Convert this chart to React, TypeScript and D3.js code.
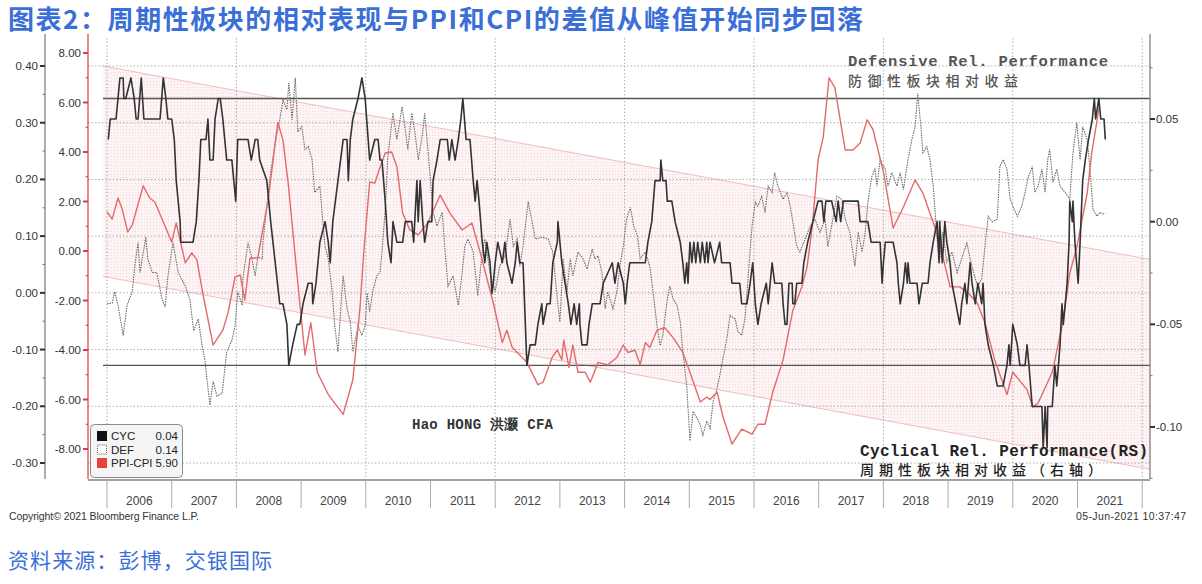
import React from "react";
import * as d3 from "d3";

// decimal year, value (right axis)
const cycData: [number, number][] = [
  [2006.02, 0.04], [2006.05, 0.05], [2006.14, 0.05], [2006.17, 0.06], [2006.2, 0.07], [2006.25, 0.07],
  [2006.26, 0.06], [2006.29, 0.06], [2006.37, 0.07], [2006.42, 0.06], [2006.45, 0.05], [2006.48, 0.05],
  [2006.53, 0.07], [2006.57, 0.05], [2006.82, 0.05], [2006.87, 0.07], [2006.91, 0.06], [2006.94, 0.05],
  [2007.0, 0.05], [2007.04, 0.04], [2007.07, 0.02], [2007.1, 0.01], [2007.13, 0.0], [2007.14, -0.01],
  [2007.33, -0.01], [2007.38, 0.0], [2007.42, 0.02], [2007.45, 0.04], [2007.53, 0.04], [2007.56, 0.05],
  [2007.59, 0.03], [2007.64, 0.03], [2007.67, 0.05], [2007.72, 0.06], [2007.75, 0.06], [2007.79, 0.05],
  [2007.85, 0.03], [2007.93, 0.03], [2007.99, 0.01], [2008.02, 0.04], [2008.18, 0.04], [2008.23, 0.03],
  [2008.29, 0.04], [2008.33, 0.04], [2008.36, 0.03], [2008.47, 0.02], [2008.53, 0.0], [2008.6, -0.02],
  [2008.67, -0.04], [2008.72, -0.04], [2008.78, -0.05], [2008.81, -0.07], [2008.87, -0.06], [2008.94, -0.05],
  [2008.98, -0.05], [2009.03, -0.04], [2009.11, -0.03], [2009.17, -0.03], [2009.18, -0.04], [2009.23, -0.03],
  [2009.29, -0.01], [2009.37, 0.0], [2009.42, -0.01], [2009.45, -0.02], [2009.49, 0.0], [2009.57, 0.02],
  [2009.65, 0.04], [2009.71, 0.04], [2009.73, 0.02], [2009.76, 0.04], [2009.8, 0.05], [2009.88, 0.06],
  [2009.94, 0.07], [2009.99, 0.06], [2010.06, 0.03], [2010.14, 0.04], [2010.19, 0.04], [2010.22, 0.03],
  [2010.25, 0.03], [2010.3, 0.01], [2010.34, -0.01], [2010.39, -0.02], [2010.42, 0.0], [2010.48, -0.01],
  [2010.57, -0.01], [2010.61, 0.0], [2010.71, 0.0], [2010.74, -0.01], [2010.79, 0.02], [2010.81, 0.0],
  [2010.84, 0.02], [2010.88, 0.0], [2010.91, -0.01], [2010.96, 0.0], [2011.02, 0.0], [2011.04, 0.02],
  [2011.1, 0.03], [2011.15, 0.04], [2011.26, 0.04], [2011.29, 0.03], [2011.33, 0.04], [2011.38, 0.03],
  [2011.43, 0.04], [2011.47, 0.05], [2011.5, 0.06], [2011.55, 0.04], [2011.61, 0.04], [2011.66, 0.02],
  [2011.69, 0.01], [2011.72, 0.02], [2011.75, 0.01], [2011.8, -0.01], [2011.84, -0.02], [2011.87, -0.01],
  [2011.92, -0.02], [2011.95, -0.035], [2011.97, -0.03], [2012.0, -0.02], [2012.04, -0.01], [2012.11, -0.02],
  [2012.15, -0.01], [2012.18, -0.02], [2012.26, -0.03], [2012.31, -0.02], [2012.34, -0.01], [2012.38, -0.02],
  [2012.43, -0.02], [2012.49, -0.07], [2012.54, -0.06], [2012.62, -0.06], [2012.66, -0.05], [2012.72, -0.04],
  [2012.74, -0.05], [2012.8, -0.04], [2012.85, -0.04], [2012.89, -0.02], [2012.96, -0.01], [2012.97, 0.0],
  [2013.0, -0.01], [2013.03, -0.02], [2013.08, -0.03], [2013.13, -0.04], [2013.17, -0.05], [2013.22, -0.04],
  [2013.26, -0.05], [2013.3, -0.04], [2013.31, -0.05], [2013.34, -0.06], [2013.42, -0.06], [2013.45, -0.05],
  [2013.5, -0.04], [2013.62, -0.04], [2013.67, -0.03], [2013.81, -0.02], [2013.85, -0.03], [2013.9, -0.02],
  [2013.98, -0.03], [2014.01, -0.04], [2014.04, -0.03], [2014.08, -0.02], [2014.32, -0.02], [2014.36, -0.01],
  [2014.42, 0.0], [2014.47, 0.02], [2014.55, 0.02], [2014.56, 0.03], [2014.59, 0.02], [2014.64, 0.02],
  [2014.66, 0.01], [2014.73, 0.01], [2014.78, 0.0], [2014.86, -0.01], [2014.9, -0.02], [2014.93, -0.03],
  [2014.96, -0.02], [2014.98, -0.03], [2015.01, -0.01], [2015.04, -0.02], [2015.07, -0.01], [2015.1, -0.02],
  [2015.13, -0.01], [2015.17, -0.02], [2015.2, -0.01], [2015.24, -0.02], [2015.27, -0.01], [2015.29, -0.02],
  [2015.32, -0.01], [2015.39, -0.02], [2015.47, -0.01], [2015.5, -0.02], [2015.63, -0.02], [2015.66, -0.03],
  [2015.78, -0.03], [2015.81, -0.04], [2015.89, -0.04], [2015.94, -0.03], [2015.98, -0.02], [2016.02, -0.04],
  [2016.06, -0.05], [2016.11, -0.04], [2016.19, -0.03], [2016.22, -0.04], [2016.28, -0.02], [2016.32, -0.03],
  [2016.43, -0.03], [2016.45, -0.04], [2016.48, -0.05], [2016.51, -0.05], [2016.54, -0.03], [2016.59, -0.03],
  [2016.6, -0.04], [2016.63, -0.04], [2016.66, -0.03], [2016.74, -0.03], [2016.77, -0.02], [2016.83, -0.01],
  [2016.91, 0.0], [2016.99, 0.01], [2017.05, 0.01], [2017.08, 0.0], [2017.11, 0.01], [2017.2, 0.01],
  [2017.27, 0.0], [2017.3, 0.01], [2017.34, 0.0], [2017.38, 0.01], [2017.61, 0.01], [2017.64, 0.0],
  [2017.76, 0.0], [2017.81, -0.01], [2017.95, -0.01], [2017.98, -0.03], [2018.0, -0.02], [2018.03, -0.01],
  [2018.15, -0.01], [2018.21, -0.02], [2018.23, -0.03], [2018.26, -0.04], [2018.31, -0.03], [2018.34, -0.02],
  [2018.37, -0.03], [2018.38, -0.02], [2018.41, -0.03], [2018.52, -0.03], [2018.55, -0.04], [2018.6, -0.03],
  [2018.69, -0.03], [2018.72, -0.02], [2018.77, -0.01], [2018.83, 0.0], [2018.86, -0.02], [2018.87, 0.0],
  [2018.91, -0.02], [2018.95, 0.0], [2018.98, -0.01], [2019.03, -0.02], [2019.06, -0.03], [2019.12, -0.04],
  [2019.18, -0.05], [2019.21, -0.04], [2019.26, -0.03], [2019.29, -0.04], [2019.34, -0.02], [2019.37, -0.03],
  [2019.42, -0.04], [2019.46, -0.03], [2019.52, -0.04], [2019.54, -0.03], [2019.57, -0.05], [2019.62, -0.06],
  [2019.7, -0.07], [2019.76, -0.08], [2019.85, -0.08], [2019.91, -0.07], [2019.94, -0.06], [2019.96, -0.07],
  [2020.0, -0.05], [2020.07, -0.06], [2020.11, -0.07], [2020.19, -0.07], [2020.22, -0.06], [2020.25, -0.07],
  [2020.3, -0.09], [2020.45, -0.09], [2020.47, -0.11], [2020.5, -0.09], [2020.53, -0.11], [2020.54, -0.09],
  [2020.61, -0.09], [2020.65, -0.07], [2020.68, -0.08], [2020.73, -0.06], [2020.76, -0.04], [2020.78, -0.05],
  [2020.84, -0.03], [2020.87, -0.01], [2020.88, 0.01], [2020.92, 0.0], [2020.93, 0.01], [2020.96, -0.01],
  [2021.01, -0.03], [2021.04, -0.01], [2021.08, 0.02], [2021.12, 0.03], [2021.17, 0.04], [2021.23, 0.05],
  [2021.26, 0.06], [2021.28, 0.05], [2021.33, 0.06], [2021.36, 0.05], [2021.41, 0.05], [2021.43, 0.04],
];

// decimal year, value (outer left axis)
const defData: [number, number][] = [
  [2006.0, -0.019], [2006.08, -0.018], [2006.12, 0.002], [2006.17, -0.022], [2006.25, -0.075], [2006.31, -0.022],
  [2006.39, 0.002], [2006.43, 0.047], [2006.48, 0.089], [2006.51, 0.036], [2006.6, 0.098], [2006.63, 0.06],
  [2006.7, 0.036], [2006.77, 0.036], [2006.85, -0.011], [2006.9, -0.025], [2006.94, 0.028], [2007.02, 0.089],
  [2007.1, 0.036], [2007.21, 0.012], [2007.28, -0.011], [2007.34, -0.067], [2007.41, -0.046], [2007.47, -0.093],
  [2007.51, -0.116], [2007.59, -0.198], [2007.64, -0.156], [2007.7, -0.182], [2007.78, -0.177], [2007.85, -0.104],
  [2007.93, -0.084], [2007.98, -0.058], [2008.02, 0.002], [2008.09, -0.022], [2008.1, 0.025], [2008.18, 0.089],
  [2008.24, 0.06], [2008.29, 0.03], [2008.33, 0.063], [2008.4, 0.06], [2008.41, 0.089], [2008.47, 0.153],
  [2008.52, 0.205], [2008.6, 0.265], [2008.67, 0.305], [2008.72, 0.34], [2008.78, 0.323], [2008.81, 0.37],
  [2008.86, 0.305], [2008.91, 0.379], [2008.95, 0.284], [2009.01, 0.293], [2009.06, 0.253], [2009.11, 0.258],
  [2009.17, 0.235], [2009.21, 0.177], [2009.29, 0.188], [2009.32, 0.147], [2009.37, 0.082], [2009.42, 0.06],
  [2009.48, 0.002], [2009.52, -0.058], [2009.57, -0.104], [2009.63, 0.002], [2009.65, 0.03], [2009.71, -0.028],
  [2009.76, -0.051], [2009.8, -0.104], [2009.88, -0.058], [2009.94, -0.075], [2009.99, -0.058], [2010.02, 0.0],
  [2010.06, -0.033], [2010.11, 0.004], [2010.17, 0.03], [2010.22, 0.036], [2010.25, 0.072], [2010.3, 0.147],
  [2010.34, 0.24], [2010.42, 0.317], [2010.48, 0.27], [2010.56, 0.328], [2010.61, 0.288], [2010.65, 0.253],
  [2010.71, 0.317], [2010.76, 0.282], [2010.81, 0.235], [2010.87, 0.275], [2010.91, 0.317], [2010.96, 0.253],
  [2010.99, 0.212], [2011.04, 0.142], [2011.1, 0.118], [2011.18, 0.142], [2011.22, 0.082], [2011.27, 0.012],
  [2011.35, 0.03], [2011.43, -0.022], [2011.49, 0.036], [2011.53, 0.082], [2011.58, 0.095], [2011.66, 0.072],
  [2011.73, -0.005], [2011.8, 0.072], [2011.84, 0.095], [2011.92, 0.036], [2012.0, 0.002], [2012.07, 0.047],
  [2012.15, 0.065], [2012.23, 0.13], [2012.28, 0.082], [2012.34, 0.095], [2012.38, 0.047], [2012.43, 0.082],
  [2012.51, 0.161], [2012.57, 0.125], [2012.62, 0.095], [2012.72, 0.098], [2012.82, 0.095], [2012.89, 0.072],
  [2012.96, -0.011], [2013.0, -0.051], [2013.05, 0.06], [2013.11, 0.002], [2013.16, 0.06], [2013.2, 0.03],
  [2013.28, 0.072], [2013.36, 0.06], [2013.42, 0.042], [2013.5, 0.077], [2013.54, 0.06], [2013.59, 0.065],
  [2013.65, 0.036], [2013.7, -0.028], [2013.74, 0.002], [2013.82, -0.028], [2013.88, 0.002], [2013.93, 0.05],
  [2013.98, 0.082], [2014.03, 0.13], [2014.09, 0.151], [2014.14, 0.118], [2014.2, 0.1], [2014.24, 0.06],
  [2014.32, 0.072], [2014.39, 0.047], [2014.44, 0.002], [2014.5, -0.058], [2014.55, -0.093], [2014.59, -0.075],
  [2014.66, -0.011], [2014.7, 0.012], [2014.75, -0.011], [2014.81, -0.022], [2014.86, -0.051], [2014.9, -0.104],
  [2014.96, -0.163], [2015.01, -0.261], [2015.06, -0.209], [2015.12, -0.221], [2015.17, -0.233], [2015.21, -0.251],
  [2015.27, -0.226], [2015.32, -0.239], [2015.37, -0.191], [2015.43, -0.168], [2015.47, -0.146], [2015.52, -0.116],
  [2015.58, -0.081], [2015.63, -0.04], [2015.71, -0.046], [2015.75, -0.068], [2015.81, -0.075], [2015.86, -0.046],
  [2015.91, 0.03], [2015.97, 0.118], [2016.02, 0.16], [2016.06, 0.153], [2016.12, 0.17], [2016.17, 0.142],
  [2016.22, 0.188], [2016.28, 0.177], [2016.32, 0.212], [2016.37, 0.188], [2016.45, 0.165], [2016.51, 0.177],
  [2016.56, 0.153], [2016.6, 0.125], [2016.66, 0.082], [2016.71, 0.072], [2016.79, 0.095], [2016.87, 0.118],
  [2016.94, 0.13], [2017.02, 0.107], [2017.1, 0.13], [2017.14, 0.082], [2017.2, 0.118], [2017.28, 0.17],
  [2017.36, 0.165], [2017.41, 0.13], [2017.48, 0.107], [2017.56, 0.047], [2017.61, 0.107], [2017.67, 0.072],
  [2017.72, 0.107], [2017.76, 0.16], [2017.82, 0.205], [2017.87, 0.218], [2017.9, 0.188], [2017.95, 0.235],
  [2018.03, 0.218], [2018.07, 0.188], [2018.13, 0.212], [2018.21, 0.188], [2018.26, 0.212], [2018.31, 0.182],
  [2018.38, 0.235], [2018.44, 0.27], [2018.49, 0.293], [2018.53, 0.352], [2018.58, 0.293], [2018.61, 0.247],
  [2018.67, 0.258], [2018.72, 0.235], [2018.77, 0.188], [2018.83, 0.095], [2018.87, 0.06], [2018.92, 0.107],
  [2018.98, 0.054], [2019.06, 0.072], [2019.14, 0.036], [2019.21, 0.06], [2019.29, 0.089], [2019.34, 0.06],
  [2019.42, 0.025], [2019.46, 0.012], [2019.52, 0.025], [2019.57, 0.082], [2019.62, 0.135], [2019.68, 0.125],
  [2019.76, 0.13], [2019.8, 0.223], [2019.85, 0.235], [2019.91, 0.218], [2019.96, 0.165], [2020.0, 0.153],
  [2020.07, 0.135], [2020.14, 0.153], [2020.19, 0.177], [2020.23, 0.2], [2020.3, 0.223], [2020.34, 0.177],
  [2020.39, 0.188], [2020.45, 0.218], [2020.5, 0.177], [2020.54, 0.235], [2020.57, 0.253], [2020.62, 0.195],
  [2020.68, 0.218], [2020.73, 0.188], [2020.81, 0.177], [2020.88, 0.165], [2020.93, 0.247], [2020.99, 0.3],
  [2021.04, 0.235], [2021.08, 0.293], [2021.15, 0.27], [2021.19, 0.223], [2021.24, 0.147], [2021.3, 0.135],
  [2021.35, 0.142], [2021.39, 0.139], [2021.43, 0.14],
];

// decimal year, value (inner left axis)
const ppiCpiData: [number, number][] = [
  [2006.0, 1.59], [2006.08, 1.29], [2006.17, 2.14], [2006.23, 1.74], [2006.32, 0.77], [2006.39, 1.05],
  [2006.56, 2.63], [2006.66, 2.14], [2006.74, 1.98], [2007.0, 0.36], [2007.07, 1.13], [2007.21, -0.48],
  [2007.31, -0.08], [2007.39, -0.36], [2007.48, -1.7], [2007.64, -3.8], [2007.79, -3.2], [2007.87, -2.5],
  [2007.98, -1.05], [2008.06, -0.97], [2008.13, -1.98], [2008.21, -0.28], [2008.33, -0.28], [2008.49, 2.06],
  [2008.64, 5.2], [2008.72, 4.48], [2008.8, 2.75], [2008.94, -1.05], [2009.06, -4.2], [2009.15, -2.9],
  [2009.25, -4.9], [2009.42, -5.8], [2009.65, -6.6], [2009.8, -5.2], [2009.91, -2.3], [2009.97, 0.0],
  [2010.06, 2.79], [2010.14, 2.75], [2010.19, 3.15], [2010.3, 3.96], [2010.4, 4.0], [2010.48, 3.4],
  [2010.57, 1.53], [2010.68, 0.85], [2010.81, 0.65], [2010.96, 1.13], [2011.15, 2.26], [2011.3, 1.53],
  [2011.49, 0.85], [2011.64, 1.13], [2011.77, -0.08], [2011.97, -2.1], [2012.11, -3.7], [2012.18, -3.2],
  [2012.26, -3.88], [2012.49, -4.5], [2012.66, -5.4], [2012.74, -5.3], [2012.88, -4.3], [2012.96, -4.0],
  [2013.03, -4.4], [2013.06, -3.6], [2013.14, -4.7], [2013.2, -3.8], [2013.28, -4.9], [2013.39, -4.9],
  [2013.47, -5.3], [2013.59, -4.5], [2013.74, -4.6], [2013.88, -4.3], [2013.98, -3.8], [2014.05, -4.1],
  [2014.16, -4.0], [2014.24, -4.6], [2014.32, -3.7], [2014.39, -3.9], [2014.5, -3.2], [2014.62, -3.1],
  [2014.75, -3.5], [2014.9, -4.1], [2015.01, -4.9], [2015.17, -6.1], [2015.27, -5.9], [2015.32, -6.0],
  [2015.43, -5.7], [2015.52, -6.7], [2015.66, -7.8], [2015.81, -7.2], [2015.97, -7.4], [2016.06, -7.0],
  [2016.17, -7.0], [2016.29, -5.7], [2016.45, -4.4], [2016.6, -2.4], [2016.74, -1.45], [2016.82, -0.65],
  [2016.9, 0.97], [2016.99, 3.68], [2017.07, 4.6], [2017.16, 7.0], [2017.25, 6.6], [2017.41, 4.08],
  [2017.53, 4.08], [2017.64, 4.36], [2017.75, 5.3], [2017.84, 4.9], [2018.0, 3.2], [2018.15, 0.93],
  [2018.31, 1.78], [2018.49, 2.87], [2018.61, 2.34], [2018.8, 0.93], [2018.92, -0.24], [2019.03, -1.45],
  [2019.18, -1.45], [2019.31, -1.7], [2019.45, -2.1], [2019.57, -2.9], [2019.72, -4.4], [2019.91, -5.8],
  [2020.0, -4.9], [2020.22, -5.6], [2020.31, -6.3], [2020.39, -6.15], [2020.61, -4.9], [2020.78, -2.8],
  [2020.88, -0.9], [2020.99, 0.16], [2021.15, 2.34], [2021.22, 3.96], [2021.31, 5.4], [2021.34, 5.9],
];

// regression channel, outer left axis units
const channelTop: [number, number][] = [[2005.94, 0.4], [2022.12, 0.059]];
const channelBottom: [number, number][] = [[2005.94, 0.029], [2022.12, -0.311]];

const refLevels = [0.06, -0.07];

const defTicks = [0.4, 0.3, 0.2, 0.1, 0.0, -0.1, -0.2, -0.3];
const ppiTicks = [8, 6, 4, 2, 0, -2, -4, -6, -8];
const cycTicks = [0.05, 0.0, -0.05, -0.1];
const years = d3.range(2006, 2022);

const legendRows = [
  { label: "CYC", value: "0.04" },
  { label: "DEF", value: "0.14" },
  { label: "PPI-CPI", value: "5.90" },
];

const W = 1202;
const H = 584;
const top = 38;
const bottom = 479;
const left = 88;
const right = 1150;

const x = d3.scaleLinear().domain([2006, 2022]).range([107, 1142.2]);
const yDef = d3.scaleLinear().domain([-0.3, 0.4]).range([463, 66]);
const yPpi = d3.scaleLinear().domain([-8, 8]).range([449, 53]);
const yCyc = d3.scaleLinear().domain([-0.1, 0.05]).range([427, 119]);

const BLUE = "#3a6fd8";
const RED_LINE = "#e36a6a";
const RED_AXIS = "#e03a3a";
const sans = "'Liberation Sans', Arial, sans-serif";
const mono = "'Liberation Mono', 'DejaVu Sans Mono', monospace";
const cjk = "'Noto Sans CJK SC', sans-serif";

export default function App() {
  const defLine = d3.line<[number, number]>().x((d) => x(d[0])).y((d) => yDef(d[1]));
  const ppiLine = d3.line<[number, number]>().x((d) => x(d[0])).y((d) => yPpi(d[1]));
  const cycLine = d3.line<[number, number]>().x((d) => x(d[0])).y((d) => yCyc(d[1]));

  const channel =
    `M${x(channelTop[0][0])},${yDef(channelTop[0][1])}` +
    `L${x(channelTop[1][0])},${yDef(channelTop[1][1])}` +
    `L${x(channelBottom[1][0])},${yDef(channelBottom[1][1])}` +
    `L${x(channelBottom[0][0])},${yDef(channelBottom[0][1])}Z`;

  const defMinor = d3.range(-0.3, 0.4, 0.05).map((v) => +v.toFixed(3));
  const ppiMinor = d3.range(-8, 9, 1);
  const cycMinor = d3.range(-0.125, 0.076, 0.025).map((v) => +v.toFixed(3));
  const evenYears = d3.range(2006, 2023, 2);

  return (
    <svg
      width={W}
      height={H}
      style={{ position: "absolute", left: 0, top: 0, background: "#fff" }}
    >
      <defs>
        <pattern id="dots" width="3" height="3" patternUnits="userSpaceOnUse">
          <rect width="3" height="3" fill="#fdf5f5" />
          <rect width="1" height="1" fill="#f5d6d6" />
        </pattern>
      </defs>

      {/* title */}
      <text x={8} y={29} fontFamily={cjk} fontSize={26} fontWeight={700} fill={BLUE} textLength={855}>
        图表2：周期性板块的相对表现与PPI和CPI的差值从峰值开始同步回落
      </text>

      {/* channel */}
      <path d={channel} fill="url(#dots)" />
      <line x1={x(channelTop[0][0])} y1={yDef(channelTop[0][1])} x2={x(channelTop[1][0])} y2={yDef(channelTop[1][1])} stroke="#f2bcbc" strokeWidth={1} />
      <line x1={x(channelBottom[0][0])} y1={yDef(channelBottom[0][1])} x2={x(channelBottom[1][0])} y2={yDef(channelBottom[1][1])} stroke="#f2bcbc" strokeWidth={1} />

      {/* grid */}
      {defTicks.map((t) => (
        <line key={"gh" + t} x1={left} x2={right} y1={yDef(t)} y2={yDef(t)} stroke="#9a9a9a" strokeWidth={0.8} strokeDasharray="1.5,2" />
      ))}
      {evenYears.map((yr) => (
        <line key={"gv" + yr} x1={x(yr)} x2={x(yr)} y1={top} y2={bottom} stroke="#9a9a9a" strokeWidth={0.8} strokeDasharray="1.5,2" />
      ))}

      {/* reference levels */}
      {refLevels.map((v) => (
        <line key={"ref" + v} x1={103} x2={right} y1={yCyc(v)} y2={yCyc(v)} stroke="#555" strokeWidth={1.4} />
      ))}

      {/* series */}
      <path d={defLine(defData) || ""} fill="none" stroke="#6a6a6a" strokeWidth={1.1} strokeDasharray="1.5,1" />
      <path d={ppiLine(ppiCpiData) || ""} fill="none" stroke={RED_LINE} strokeWidth={1.4} strokeLinejoin="round" />
      <path d={cycLine(cycData) || ""} fill="none" stroke="#333" strokeWidth={1.6} strokeLinejoin="round" />

      {/* outer left axis (DEF) */}
      <line x1={45} x2={45} y1={top - 4} y2={bottom} stroke="#777" strokeWidth={1.2} />
      {defMinor.map((t) => (
        <line key={"dm" + t} x1={42.5} x2={45} y1={yDef(t)} y2={yDef(t)} stroke="#777" strokeWidth={1} />
      ))}
      {defTicks.map((t) => (
        <g key={"dt" + t}>
          <line x1={40} x2={45} y1={yDef(t)} y2={yDef(t)} stroke="#333" strokeWidth={2} />
          <text x={38} y={yDef(t)} dy="0.35em" textAnchor="end" fontFamily={sans} fontSize={11.5} fill="#333">
            {t.toFixed(2)}
          </text>
        </g>
      ))}

      {/* inner left axis (PPI-CPI) */}
      <line x1={left} x2={left} y1={top - 4} y2={bottom} stroke={RED_AXIS} strokeWidth={1.2} />
      {ppiMinor.map((t) => (
        <line key={"pm" + t} x1={85.5} x2={left} y1={yPpi(t)} y2={yPpi(t)} stroke={RED_AXIS} strokeWidth={1} />
      ))}
      {ppiTicks.map((t) => (
        <g key={"pt" + t}>
          <line x1={83} x2={left} y1={yPpi(t)} y2={yPpi(t)} stroke={RED_AXIS} strokeWidth={2} />
          <text x={81} y={yPpi(t)} dy="0.35em" textAnchor="end" fontFamily={sans} fontSize={11.5} fill="#333">
            {t.toFixed(2)}
          </text>
        </g>
      ))}

      {/* right axis (CYC) */}
      <line x1={right} x2={right} y1={top - 4} y2={bottom} stroke="#777" strokeWidth={1.2} />
      {cycMinor.map((t) => (
        <line key={"cm" + t} x1={right} x2={right + 2.5} y1={yCyc(t)} y2={yCyc(t)} stroke="#777" strokeWidth={1} />
      ))}
      {cycTicks.map((t) => (
        <g key={"ct" + t}>
          <line x1={right} x2={right + 5} y1={yCyc(t)} y2={yCyc(t)} stroke="#333" strokeWidth={2} />
          <text x={right + 6} y={yCyc(t)} dy="0.35em" fontFamily={sans} fontSize={11.5} fill="#333">
            {t.toFixed(2)}
          </text>
        </g>
      ))}

      {/* date axis */}
      <line x1={left} x2={right} y1={bottom + 1} y2={bottom + 1} stroke="#444" strokeWidth={1.2} />
      {d3.range(2006, 2023).map((yr) => (
        <line key={"ys" + yr} x1={x(yr)} x2={x(yr)} y1={bottom + 1} y2={508} stroke="#aaa" strokeWidth={1} />
      ))}
      {years.map((yr) => (
        <text key={"yl" + yr} x={x(yr + 0.5)} y={505} textAnchor="middle" fontFamily={sans} fontSize={12} fill="#444">
          {yr}
        </text>
      ))}

      {/* legend */}
      <rect x={90.5} y={424.5} width={92} height={53} rx={4} fill="#f5f5f5" stroke="#8a8a8a" strokeWidth={1} />
      {legendRows.map((r, i) => {
        const cy = 436 + i * 13.5;
        return (
          <g key={r.label}>
            {i === 0 && <rect x={97} y={cy - 5} width={10} height={10} fill="#111" />}
            {i === 1 && <rect x={97.5} y={cy - 4.5} width={9} height={9} fill="#fff" stroke="#666" strokeDasharray="1,1" />}
            {i === 2 && <rect x={97} y={cy - 5} width={10} height={10} fill="#e8413a" />}
            <text x={111} y={cy} dy="0.36em" fontFamily={sans} fontSize={11.5} fill="#222">
              {r.label}
            </text>
            <text x={178} y={cy} dy="0.36em" textAnchor="end" fontFamily={sans} fontSize={11.5} fill="#222">
              {r.value}
            </text>
          </g>
        );
      })}

      {/* annotations */}
      <text x={848} y={66} fontFamily={mono} fontSize={15.5} fontWeight={700} fill="#555" textLength={260}>
        Defensive Rel. Performance
      </text>
      <text x={848} y={86} fontFamily={cjk} fontSize={14} fontWeight={500} fill="#555" textLength={170}>
        防御性板块相对收益
      </text>
      <text x={412} y={429} fontFamily={mono} fontSize={14} fontWeight={700} fill="#333" textLength={141}>
        Hao HONG 洪灏 CFA
      </text>
      <text x={860} y={456} fontFamily={mono} fontSize={16} fontWeight={700} fill="#222" textLength={288}>
        Cyclical Rel. Performance(RS)
      </text>
      <text x={860} y={475} fontFamily={cjk} fontSize={14} fontWeight={500} fill="#222" textLength={242}>
        周期性板块相对收益（右轴）
      </text>

      {/* footer */}
      <text x={9} y={520} fontFamily={sans} fontSize={10.5} fill="#333" textLength={190}>
        Copyright© 2021 Bloomberg Finance L.P.
      </text>
      <text x={1186} y={520} textAnchor="end" fontFamily={sans} fontSize={10.5} fill="#333" textLength={110}>
        05-Jun-2021 10:37:47
      </text>
      <text x={8} y={568} fontFamily={cjk} fontSize={21} fill={BLUE} textLength={264}>
        资料来源：彭博，交银国际
      </text>
    </svg>
  );
}
